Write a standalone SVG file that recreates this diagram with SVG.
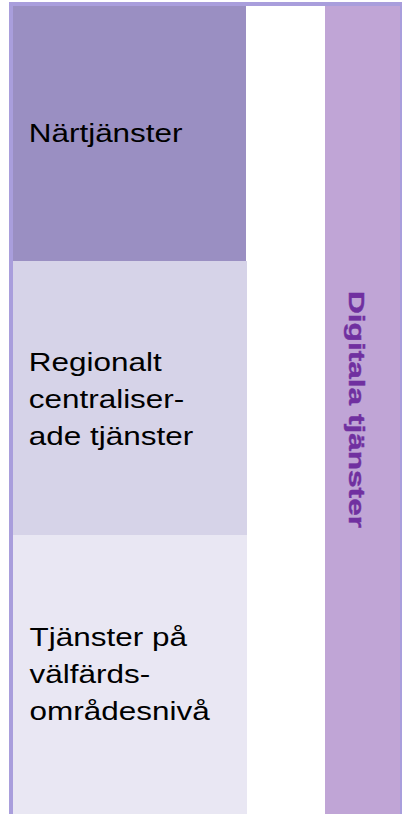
<svg xmlns="http://www.w3.org/2000/svg" width="402" height="814" viewBox="0 0 402 814">
  <style>
    .lbl { font-family: "Liberation Sans", Arial, sans-serif; font-size: 25.8px; fill: #000000; }
    .vert { font-family: "Liberation Sans", Arial, sans-serif; font-size: 22px; font-weight: bold; fill: #7030a0; stroke: #7030a0; stroke-width: 0.4px; }
    .frame { fill: #a99edc; }
  </style>
  <rect x="0" y="0" width="402" height="814" fill="#ffffff"/>

  <!-- outer frame -->
  <g id="frame">
    <rect class="frame" x="9" y="2" width="393" height="4"/>
    <rect class="frame" x="9" y="2" width="4" height="812"/>
    <rect class="frame" x="400" y="2" width="2" height="812"/>
  </g>

  <g id="nartjanster">
    <rect x="13" y="6" width="233" height="255" fill="#9a8fc2"/>
    <g transform="translate(28.7,0) scale(1.22,1)">
      <text class="lbl" x="0" y="141.7">Närtjänster</text>
    </g>
  </g>

  <g id="regionalt">
    <rect x="13" y="261" width="234" height="274" fill="#d6d3e8"/>
    <g transform="translate(28.7,0) scale(1.22,1)">
      <text class="lbl" x="0" y="370.7">Regionalt</text>
      <text class="lbl" x="0" y="407.9">centraliser-</text>
      <text class="lbl" x="0" y="445">ade tjänster</text>
    </g>
  </g>

  <g id="valfardsomrade">
    <rect x="13" y="535" width="234" height="279" fill="#e9e7f3"/>
    <g transform="translate(29.5,0) scale(1.22,1)">
      <text class="lbl" x="0" y="645.7">Tjänster på</text>
      <text class="lbl" x="0" y="682.9">välfärds-</text>
      <text class="lbl" x="0" y="720">områdesnivå</text>
    </g>
  </g>

  <g id="digitala">
    <rect x="325" y="6" width="75" height="808" fill="#c0a5d6"/>
    <text class="vert" transform="translate(348.5,291) rotate(90)" x="0" y="0" textLength="237" lengthAdjust="spacingAndGlyphs">Digitala tjänster</text>
  </g>

  <g id="connectors"/>
</svg>
